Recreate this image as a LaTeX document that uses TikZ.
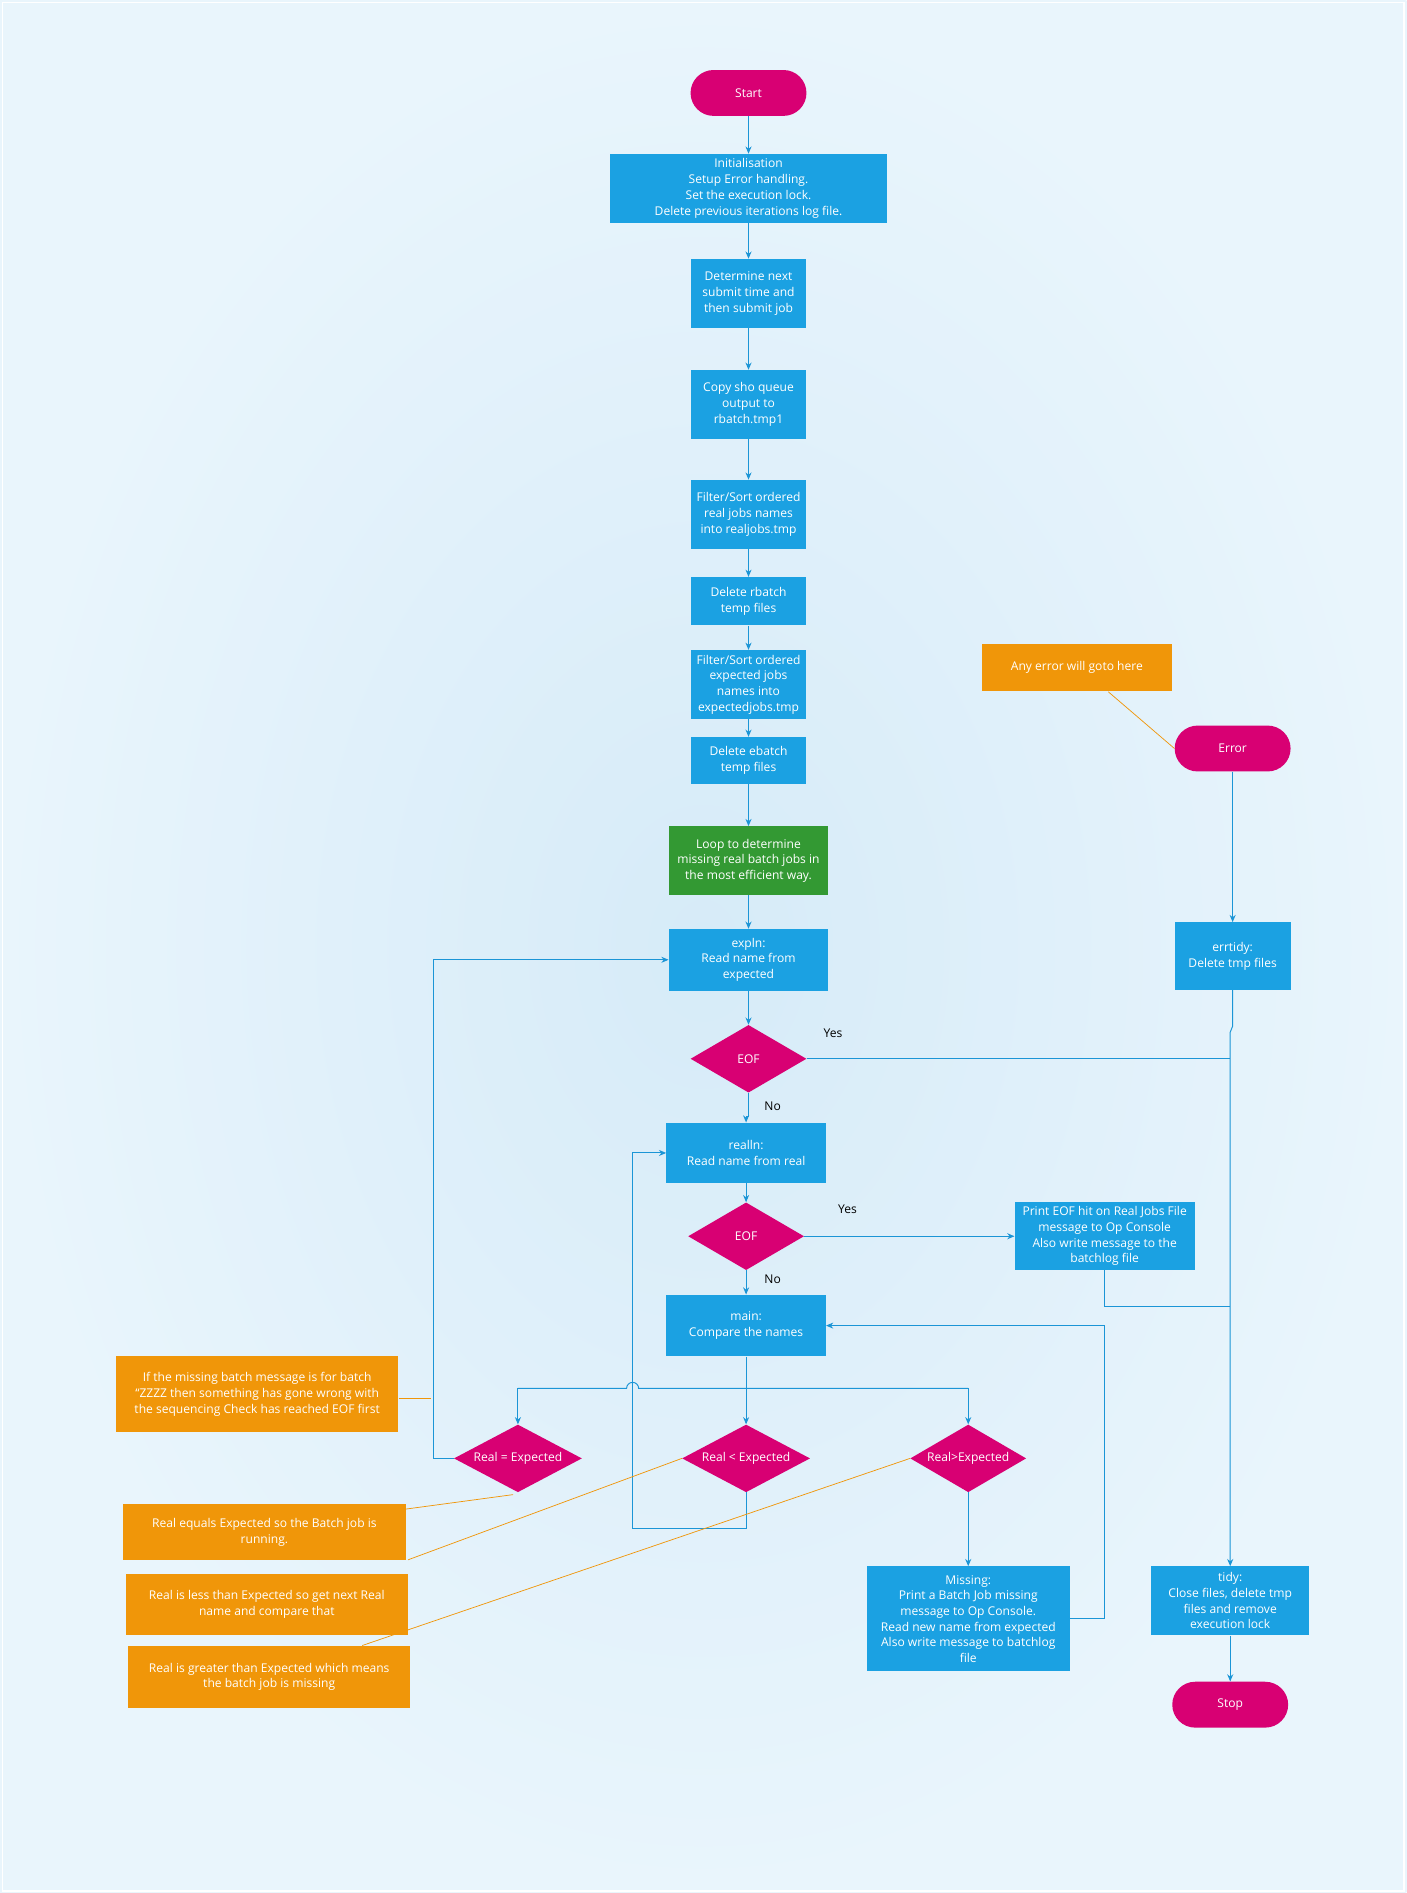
\documentclass[tikz,border=0pt]{standalone}
\usepackage{fontspec}
\setmainfont{Open Sans}
\usetikzlibrary{shapes.geometric,arrows.meta}
\definecolor{bx}{HTML}{1BA1E2}
\definecolor{mg}{HTML}{D80073}
\definecolor{og}{HTML}{F09609}
\definecolor{gn}{HTML}{339933}
\definecolor{ln}{HTML}{1B95D6}
\tikzset{
 x=1pt,y=-1pt,
 every node/.style={font=\fontsize{10}{13}\selectfont, text=white, align=center},
 box/.style={fill=bx, inner sep=1pt},
 term/.style={fill=mg, rounded corners=19pt, minimum width=96pt, minimum height=38pt},
 dmd/.style={diamond, fill=mg, minimum width=#1, minimum height=56pt, inner sep=0pt},
 note/.style={fill=og, inner sep=1pt},
 con/.style={draw=ln, line width=0.8pt, -{Stealth[length=6pt,width=5pt]}},
 lin/.style={draw=ln, line width=0.8pt},
 ann/.style={draw=og, line width=0.6pt},
 lab/.style={text=black},
}
\begin{document}
\begin{tikzpicture}
\shade[inner color={rgb,255:red,214;green,235;blue,248}, outer color={rgb,255:red,233;green,245;blue,252}] (0,0) rectangle (1165,1568);
\draw[white,line width=1.5pt] (2,2) rectangle (1163,1566);
\useasboundingbox (0,0) rectangle (1165,1568);
% nodes
\node[term] (start) at (620,77) {Start};
\node[box, minimum width=229pt, minimum height=57pt] (init) at (620,156) {Initialisation\\Setup Error handling.\\Set the execution lock.\\Delete previous iterations log file.};
\node[box, minimum width=96pt, minimum height=57pt] (det) at (620,243) {Determine next\\submit time and\\then submit job};
\node[box, minimum width=96pt, minimum height=57pt] (copy) at (620,335) {Copy sho queue\\output to\\rbatch.tmp1};
\node[box, minimum width=96pt, minimum height=57pt] (fr) at (620,426) {Filter/Sort ordered\\real jobs names\\into realjobs.tmp};
\node[box, minimum width=96pt, minimum height=40pt] (dr) at (620,498) {Delete rbatch\\temp files};
\node[box, minimum width=96pt, minimum height=57pt] (fe) at (620,567) {Filter/Sort ordered\\expected jobs\\names into\\expectedjobs.tmp};
\node[box, minimum width=96pt, minimum height=39pt] (de) at (620,630) {Delete ebatch\\temp files};
\node[box, fill=gn, minimum width=132pt, minimum height=57pt] (loop) at (620,713) {Loop to determine\\missing real batch jobs in\\the most efficient way.};
\node[box, minimum width=132pt, minimum height=51pt] (exp) at (620,795) {expln:\\Read name from\\expected};
\node[dmd=96pt] (eof1) at (620,877) {}; \node at (eof1) {EOF};
\node[box, minimum width=132pt, minimum height=50pt] (real) at (618,955) {realln:\\Read name from real};
\node[dmd=96pt] (eof2) at (618,1024) {}; \node at (eof2) {EOF};
\node[box, minimum width=132pt, minimum height=51pt] (main) at (618,1098) {main:\\Compare the names};
\node[dmd=106pt] (req) at (429,1208) {}; \node at (req) {Real = Expected};
\node[dmd=106pt] (rlt) at (618,1208) {}; \node at (rlt) {Real < Expected};
\node[dmd=96pt] (rgt) at (802,1208) {}; \node at (rgt) {Real>Expected};
\node[box, minimum width=168pt, minimum height=87pt] (miss) at (802,1341) {Missing:\\Print a Batch Job missing\\message to Op Console.\\Read new name from expected\\Also write message to batchlog\\file};
\node[box, minimum width=149pt, minimum height=56pt] (peof) at (915,1024) {Print EOF hit on Real Jobs File\\message to Op Console\\Also write message to the\\batchlog file};
\node[note, minimum width=157pt, minimum height=39pt] (anyerr) at (892,553) {Any error will goto here};
\node[term] (err) at (1021,620) {Error};
\node[box, minimum width=96pt, minimum height=56pt] (errt) at (1021,792) {errtidy:\\Delete tmp files};
\node[box, minimum width=131pt, minimum height=57pt] (tidy) at (1019,1326) {tidy:\\Close files, delete tmp\\files and remove\\execution lock};
\node[term] (stop) at (1019,1412) {Stop};
\node[note, minimum width=234pt, minimum height=63pt] (n1) at (213,1155) {If the missing batch message is for batch\\``ZZZZ then something has gone wrong with\\the sequencing Check has reached EOF first};
\node[note, minimum width=234pt, minimum height=46pt] (n2) at (219,1269) {Real equals Expected so the Batch job is\\running.};
\node[note, minimum width=234pt, minimum height=51pt] (n3) at (221,1329) {Real is less than Expected so get next Real\\name and compare that};
\node[note, minimum width=234pt, minimum height=51pt] (n4) at (223,1389) {Real is greater than Expected which means\\the batch job is missing};
% chain
\draw[con] (start) -- (init);
\draw[con] (init) -- (det);
\draw[con] (det) -- (copy);
\draw[con] (copy) -- (fr);
\draw[con] (fr) -- (dr);
\draw[con] (dr) -- (fe);
\draw[con] (fe) -- (de);
\draw[con] (de) -- (loop);
\draw[con] (loop) -- (exp);
\draw[con] (exp) -- (eof1);
\draw[con] (eof1.south) -- ++(0,20) -| (real.north);
\node[lab] at (640,916) {No};
\draw[con] (real) -- (eof2);
\draw[con] (eof2) -- (main);
\node[lab] at (640,1060) {No};
\draw[con] (eof2.east) -- (peof.west);
\node[lab] at (702,1002) {Yes};
\node[lab] at (690,856) {Yes};
\coordinate (jx) at (1019,877);
\draw[lin] (eof1.east) -- (jx);
\draw[con] (errt.south) -- (1021,850) -- (1019,855) -- (tidy.north);
\draw[lin] (peof.south) |- (1019,1082);
\draw[con] (err) -- (errt);
\draw[con] (tidy) -- (stop);
% main split
\coordinate (sp) at (618,1150);
\draw[lin] (main.south) -- (sp);
\draw[lin] (429,1150) -- (519,1150) arc[start angle=180,end angle=360,radius=5] -- (802,1150);
\draw[con] (429,1150) -- (req.north);
\draw[con] (sp) -- (rlt.north);
\draw[con] (802,1150) -- (rgt.north);
% loops back
\draw[con] (req.west) -- (359,1208) -- (359,795) -- (exp.west);
\draw[con] (rlt.south) -- (618,1266) -- (524,1266) -- (524,955) -- (real.west);
\draw[con] (rgt.south) -- (miss.north);
\draw[con] (miss.east) -- (915,1341) -- (915,1098) -- (main.east);
% annotations
\draw[ann] (918,573) -- (err.west);
\draw[ann] (n1.east) ++(0,3) -- (357,1158);
\draw[ann] (336,1250) -- (425,1238);
\draw[ann] (338,1292) -- (rlt.west);
\draw[ann] (300,1363) -- (rgt.west);
\end{tikzpicture}
\end{document}
